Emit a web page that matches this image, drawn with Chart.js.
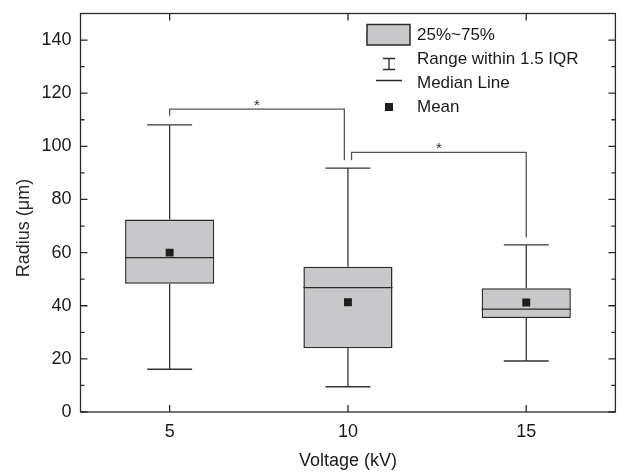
<!DOCTYPE html>
<html>
<head>
<meta charset="utf-8">
<title>Radius vs Voltage</title>
<script src="https://cdn.jsdelivr.net/npm/chart.js@4.4.0/dist/chart.umd.min.js"></script>
<style>
  html, body { margin: 0; padding: 0; background: #fff; }
  canvas { display: block; }
</style>
</head>
<body>
<canvas id="myChart" width="621" height="473"></canvas>
<script>
'use strict';

// data
const voltages = [5, 10, 15];
const whiskerMax = [108.1, 91.8, 62.9];
const q3 = [72.5, 54.7, 46.6];
const medians = [58.1, 46.8, 38.7];
const means = [60.0, 41.3, 41.2];
const q1 = [48.3, 24.0, 35.4];
const whiskerMin = [16.1, 9.5, 19.2];

// significance brackets (x from, x to, top, left leg end, right leg end)
const bracketFrom = [5, 10.1];
const bracketTo = [9.9, 15];
const bracketTop = [114.0, 97.7];
const bracketLeftEnd = [111.5, 94.8];
const bracketRightEnd = [94.8, 65.7];
const bracketMarks = ['*', '*'];

const xTicks = [5, 10, 15];
const yTicks = [0, 20, 40, 60, 80, 100, 120, 140];
const legendLabels = ['25%~75%', 'Range within 1.5 IQR', 'Median Line', 'Mean'];

const BOX_WIDTH = 2.5;
const CAP_WIDTH = 1.26;
const FONT = "'Liberation Sans', Arial, sans-serif";
const INK = '#2a2a2a';
const BOX_FILL = '#c8c8ca';

const gap = (x) => ({x: x, y: null});

let whiskerPts = [];
voltages.forEach(function(v, i){
  whiskerPts.push({x: v, y: q3[i]}, {x: v, y: whiskerMax[i]}, gap(v));
  whiskerPts.push({x: v - CAP_WIDTH / 2, y: whiskerMax[i]}, {x: v + CAP_WIDTH / 2, y: whiskerMax[i]}, gap(v));
  whiskerPts.push({x: v, y: q1[i]}, {x: v, y: whiskerMin[i]}, gap(v));
  whiskerPts.push({x: v - CAP_WIDTH / 2, y: whiskerMin[i]}, {x: v + CAP_WIDTH / 2, y: whiskerMin[i]}, gap(v));
});

let medianPts = [];
voltages.forEach(function(v, i){
  medianPts.push({x: v - BOX_WIDTH / 2, y: medians[i]}, {x: v + BOX_WIDTH / 2, y: medians[i]}, gap(v));
});

let bracketPts = [];
bracketFrom.forEach(function(x0, i){
  const x1 = bracketTo[i];
  bracketPts.push(
    {x: x0, y: bracketLeftEnd[i]}, {x: x0, y: bracketTop[i]},
    {x: x1, y: bracketTop[i]}, {x: x1, y: bracketRightEnd[i]}, gap(x1)
  );
});

// inward ticks and frame on all four sides
const frameTicks = {
  id: 'frameTicks',
  afterDatasetsDraw(chart) {
    const {ctx, chartArea: a, scales: {x, y}} = chart;
    ctx.save();
    ctx.strokeStyle = INK;
    ctx.lineWidth = 1.3;
    ctx.strokeRect(a.left, a.top, a.right - a.left, a.bottom - a.top);
    ctx.beginPath();
    yTicks.forEach(function(v, i){
      const py = y.getPixelForValue(v);
      ctx.moveTo(a.left, py); ctx.lineTo(a.left + 7, py);
      ctx.moveTo(a.right, py); ctx.lineTo(a.right - 7, py);
      if (i < yTicks.length - 1){
        const pm = y.getPixelForValue((v + yTicks[i + 1]) / 2);
        ctx.moveTo(a.left, pm); ctx.lineTo(a.left + 4, pm);
        ctx.moveTo(a.right, pm); ctx.lineTo(a.right - 4, pm);
      }
    });
    xTicks.forEach(function(v){
      const px = x.getPixelForValue(v);
      ctx.moveTo(px, a.bottom); ctx.lineTo(px, a.bottom - 7);
      ctx.moveTo(px, a.top); ctx.lineTo(px, a.top + 7);
    });
    ctx.stroke();

    // significance stars
    ctx.fillStyle = INK;
    ctx.font = '15px ' + FONT;
    ctx.textAlign = 'center';
    ctx.textBaseline = 'alphabetic';
    bracketMarks.forEach(function(m, i){
      const px = x.getPixelForValue((bracketFrom[i] + bracketTo[i]) / 2);
      const py = y.getPixelForValue(bracketTop[i]);
      ctx.fillText(m, px, py + 1);
    });

    // y axis title, sits a little below the middle in the original
    ctx.font = '18px ' + FONT;
    ctx.textBaseline = 'middle';
    ctx.translate(24, 228);
    ctx.rotate(-Math.PI / 2);
    ctx.fillText('Radius (\u03bcm)', 0, 0);
    ctx.restore();
  }
};

// legend drawn inside the plot, top right
const boxLegend = {
  id: 'boxLegend',
  afterDraw(chart) {
    const ctx = chart.ctx;
    const tx = 417;
    const rows = [35, 59, 83, 107];
    const sx = 389;
    ctx.save();
    ctx.strokeStyle = INK;
    ctx.fillStyle = BOX_FILL;
    ctx.lineWidth = 1.5;
    ctx.fillRect(367, 24.5, 43, 20.5);
    ctx.strokeRect(367, 24.5, 43, 20.5);

    ctx.lineWidth = 1.3;
    ctx.beginPath();
    ctx.moveTo(sx, 58.5); ctx.lineTo(sx, 69.5);
    ctx.moveTo(sx - 6, 58.5); ctx.lineTo(sx + 6, 58.5);
    ctx.moveTo(sx - 6, 69.5); ctx.lineTo(sx + 6, 69.5);
    ctx.moveTo(376, 80.5); ctx.lineTo(402, 80.5);
    ctx.stroke();

    ctx.fillStyle = '#1e1e1e';
    ctx.fillRect(sx - 4, 103, 8, 8);

    ctx.fillStyle = '#1a1a1a';
    ctx.font = '17px ' + FONT;
    ctx.textAlign = 'left';
    ctx.textBaseline = 'middle';
    legendLabels.forEach(function(t, i){
      ctx.fillText(t, tx, rows[i]);
    });
    ctx.restore();
  }
};

const ctx = document.getElementById('myChart').getContext('2d');
const chart = new Chart(ctx, {
  type: 'bar',
  data: {
    datasets: [
      {
        type: 'bar',
        label: legendLabels[0],
        data: voltages.map((v, i) => ({x: v, y: [q1[i], q3[i]]})),
        backgroundColor: BOX_FILL,
        borderColor: INK,
        borderWidth: 1.5,
        borderSkipped: false,
        categoryPercentage: 1,
        barPercentage: BOX_WIDTH / (voltages[1] - voltages[0]),
        order: 3
      },
      {
        type: 'line',
        label: legendLabels[1],
        data: whiskerPts,
        borderColor: '#333',
        borderWidth: 1.3,
        pointRadius: 0,
        spanGaps: false,
        order: 2
      },
      {
        type: 'line',
        label: legendLabels[2],
        data: medianPts,
        borderColor: INK,
        borderWidth: 1.3,
        pointRadius: 0,
        spanGaps: false,
        order: 2
      },
      {
        type: 'line',
        label: 'brackets',
        data: bracketPts,
        borderColor: '#555',
        borderWidth: 1.3,
        pointRadius: 0,
        spanGaps: false,
        order: 2
      },
      {
        type: 'line',
        label: legendLabels[3],
        data: voltages.map((v, i) => ({x: v, y: means[i]})),
        showLine: false,
        pointStyle: 'rect',
        pointRadius: 5.6,
        pointBorderWidth: 0,
        pointBackgroundColor: '#1e1e1e',
        order: 1
      }
    ]
  },
  options: {
    responsive: false,
    animation: false,
    events: [],
    layout: { padding: { top: 13.5, right: 3, left: 0, bottom: 0 } },
    plugins: {
      legend: { display: false },
      tooltip: { enabled: false }
    },
    scales: {
      x: {
        type: 'linear',
        min: 2.5,
        max: 17.5,
        offset: false,
        grid: { display: false, offset: false, drawTicks: false },
        border: { display: false },
        afterBuildTicks: (scale) => { scale.ticks = xTicks.map(v => ({value: v})); },
        afterFit: (scale) => {
          scale.height = 61;
          scale.paddingLeft = 0;
          scale.paddingRight = 0;
        },
        ticks: {
          padding: 9,
          color: '#1a1a1a',
          font: { family: FONT, size: 18 }
        },
        title: {
          display: true,
          text: 'Voltage (kV)',
          color: '#1a1a1a',
          font: { family: FONT, size: 18 },
          padding: { top: 0, bottom: 1 }
        }
      },
      y: {
        type: 'linear',
        min: 0,
        max: 150,
        grid: { display: false, drawTicks: false },
        border: { display: false },
        afterBuildTicks: (scale) => { scale.ticks = yTicks.map(v => ({value: v})); },
        afterFit: (scale) => {
          scale.width = 80.5;
          scale.paddingTop = 0;
          scale.paddingBottom = 0;
        },
        ticks: {
          padding: 9,
          color: '#1a1a1a',
          font: { family: FONT, size: 18 }
        }
      }
    }
  },
  plugins: [frameTicks, boxLegend]
});
</script>
</body>
</html>
